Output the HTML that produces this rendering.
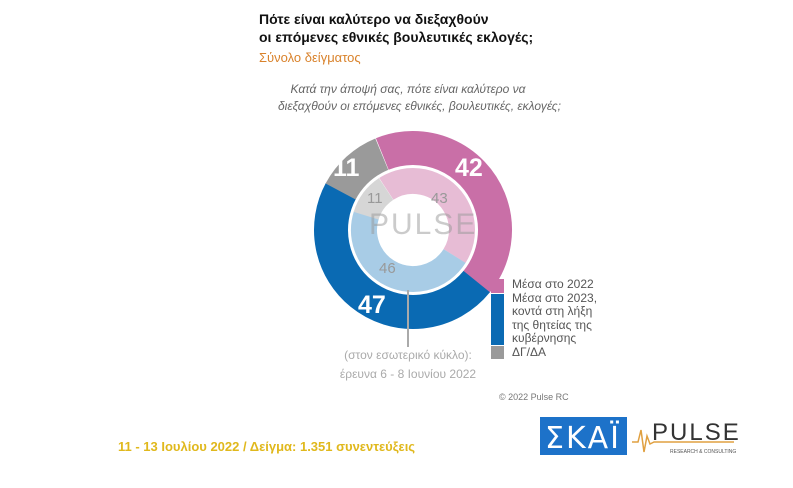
<!DOCTYPE html>
<html><head><meta charset="utf-8"><style>
body{margin:0;width:793px;height:488px;background:#fff;overflow:hidden;position:relative;font-family:"Liberation Sans","DejaVu Sans",sans-serif}
.a{position:absolute;white-space:nowrap}
</style></head><body>
<div class="a" style="left:259px;top:10px;font-weight:bold;font-size:14px;line-height:18px;color:#111">Πότε είναι καλύτερο να διεξαχθούν<br>οι επόμενες εθνικές βουλευτικές εκλογές;</div>
<div class="a" style="left:259px;top:50px;font-size:13px;color:#d9822b">Σύνολο δείγματος</div>
<div class="a" style="left:278px;top:81px;width:260px;text-align:center;font-style:italic;font-size:12px;line-height:17px;color:#666">Κατά την άποψή σας, πότε είναι καλύτερο να<br>διεξαχθούν οι επόμενες εθνικές, βουλευτικές, εκλογές;</div>
<svg class="a" style="left:0;top:0" width="793" height="488">
<g transform="translate(413,230) rotate(-90)">
<circle r="82" fill="none" stroke="#c96fa7" stroke-width="34" stroke-dasharray="216.4 515.2" transform="rotate(-22)"/>
<circle r="82" fill="none" stroke="#0a6ab3" stroke-width="34" stroke-dasharray="242.2 515.2" transform="rotate(129)"/>
<circle r="82" fill="none" stroke="#9a9a9a" stroke-width="34" stroke-dasharray="56.7 515.2" transform="rotate(298)"/>
<circle r="49" fill="none" stroke="#e7bcd5" stroke-width="26" stroke-dasharray="132.4 307.9" transform="rotate(-33)"/>
<circle r="49" fill="none" stroke="#a8cce6" stroke-width="26" stroke-dasharray="141.6 307.9" transform="rotate(122)"/>
<circle r="49" fill="none" stroke="#d6d6d6" stroke-width="26" stroke-dasharray="33.9 307.9" transform="rotate(287)"/>
</g>
<line x1="408" y1="290" x2="408" y2="347" stroke="#aaa" stroke-width="2"/>
<g font-family="Liberation Sans, sans-serif" font-weight="bold" fill="#fff" font-size="25">
<text x="333" y="176">11</text><text x="455" y="176">42</text><text x="358" y="313">47</text></g>
<g font-family="Liberation Sans, sans-serif" fill="#999" font-size="15"><text x="367" y="203">11</text><text x="431" y="203">43</text><text x="379" y="273">46</text></g>
<text x="369" y="234" font-family="Liberation Sans, sans-serif" font-size="30" fill="#999" opacity=".5" letter-spacing="2">PULSE</text>
<rect x="491" y="279" width="13" height="14" fill="#c96fa7"/>
<rect x="491" y="294" width="13" height="51" fill="#0a6ab3"/>
<rect x="491" y="346" width="13" height="13" fill="#9a9a9a"/>
<rect x="540" y="417" width="87" height="38" fill="#1d72c9"/>
<text x="583" y="448" text-anchor="middle" font-family="DejaVu Sans, sans-serif" font-size="30" fill="#fff" letter-spacing="2">ΣΚΑΪ</text>
<path d="M632 442 l6 0 l3 -12 l3 22 l3 -16 l3 8 l4 -2 h80" stroke="#e0a040" stroke-width="1.5" fill="none"/>
<text x="652" y="440" font-family="Liberation Sans, sans-serif" font-size="24" fill="#333" letter-spacing="2">PULSE</text>
<text x="670" y="453" font-family="Liberation Sans, sans-serif" font-size="5" fill="#555">RESEARCH &amp; CONSULTING</text>
</svg>
<div class="a" style="left:512px;top:278px;font-size:12px;line-height:13.5px;color:#555">Μέσα στο 2022<br>Μέσα στο 2023,<br>κοντά στη λήξη<br>της θητείας της<br>κυβέρνησης<br>ΔΓ/ΔΑ</div>
<div class="a" style="left:328px;top:346px;width:160px;text-align:center;font-size:12px;line-height:19px;color:#aaa">(στον εσωτερικό κύκλο):<br>έρευνα 6 - 8 Ιουνίου 2022</div>
<div class="a" style="left:499px;top:392px;font-size:9px;color:#777">© 2022 Pulse RC</div>
<div class="a" style="left:118px;top:439px;font-weight:bold;font-size:13px;color:#e0b81c">11 - 13 Ιουλίου 2022 / Δείγμα: 1.351 συνεντεύξεις</div>
</body></html>
